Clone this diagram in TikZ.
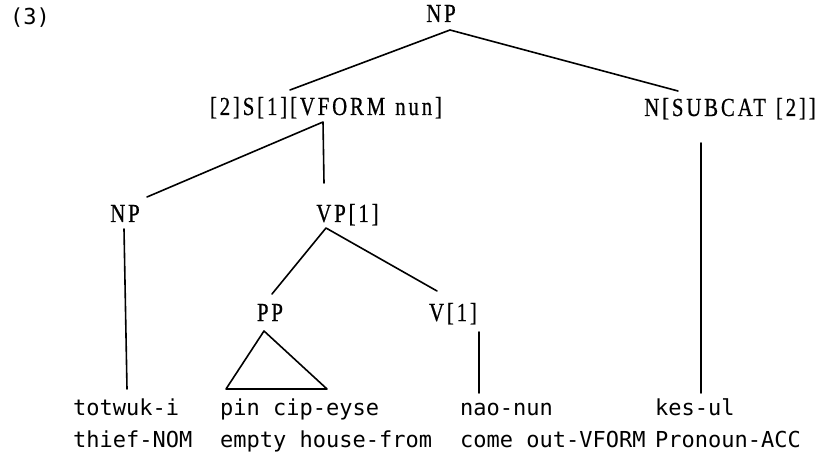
\documentclass[tikz,border=0pt]{standalone}
\usepackage{fontspec}
\newfontfamily\glossfont{DejaVu Sans Mono}
\newfontfamily\labfont[FakeStretch=0.8,LetterSpace=11,FakeBold=0.6]{Liberation Serif}
\newcommand{\wsp}{\hspace{10pt}}
\begin{document}
\begin{tikzpicture}[x=1pt,y=-1pt,
  lab/.style={anchor=base,inner sep=0pt,font=\labfont\fontsize{26}{26}\selectfont},
  gl/.style={anchor=base west,inner sep=0pt,font=\glossfont\fontsize{22}{22}\selectfont},
  br/.style={line width=1.6pt,line cap=round,line join=round}]
\useasboundingbox[fill=white] (0,0) rectangle (821,454);
% labels
\node[gl] (ex) at (10,25) {(3)};
\node[lab] (NP0) at (441,22) {NP};
\node[lab] (S) at (326,115) {[2]S[1][VFORM\wsp nun]};
\node[lab] (N) at (730,116) {N[SUBCAT\wsp[2]]};
\node[lab] (NP1) at (125,222) {NP};
\node[lab] (VP) at (347.5,222) {VP[1]};
\node[lab] (PP) at (270,321) {PP};
\node[lab] (V) at (453,321) {V[1]};
% glosses
\node[gl] (w1) at (73,415) {totwuk-i};
\node[gl] (g1) at (73,447) {thief-NOM};
\node[gl] (w2) at (220,415) {pin cip-eyse};
\node[gl] (g2) at (220,447) {empty house-from};
\node[gl] (w3) at (460,415) {nao-nun};
\node[gl] (g3) at (460,447) {come out-VFORM};
\node[gl] (w4) at (655,415) {kes-ul};
\node[gl] (g4) at (655,447) {Pronoun-ACC};
% branch points
\coordinate (NP0b) at (450,30);
\coordinate (St) at (290,90);
\coordinate (Nt) at (678,91);
\coordinate (Sb) at (323,122);
\coordinate (NP1t) at (147,197);
\coordinate (VPt) at (324,183);
\coordinate (Nb) at (701,143);
\coordinate (w4t) at (701,393);
\coordinate (NP1b) at (124,229);
\coordinate (w1t) at (127,389);
\coordinate (VPb) at (326,228);
\coordinate (PPt) at (272,294);
\coordinate (Vt) at (437,291);
\coordinate (PPb) at (264,331);
\coordinate (triL) at (226,389);
\coordinate (triR) at (327,389);
\coordinate (Vb) at (479,332);
\coordinate (w3t) at (479,393);
% connectors
\draw[br] (St) -- (NP0b) -- (Nt);
\draw[br] (NP1t) -- (Sb) -- (VPt);
\draw[br] (Nb) -- (w4t);
\draw[br] (NP1b) -- (w1t);
\draw[br] (PPt) -- (VPb) -- (Vt);
\draw[br] (PPb) -- (triL) -- (triR) -- cycle;
\draw[br] (Vb) -- (w3t);
\end{tikzpicture}
\end{document}
